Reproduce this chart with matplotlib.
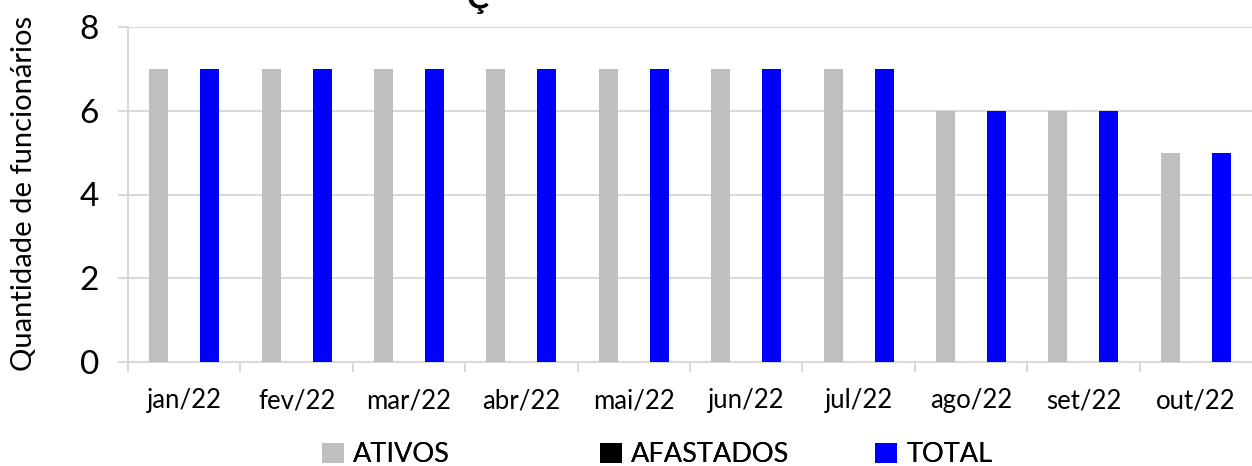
import matplotlib
matplotlib.use("Agg")
import matplotlib.pyplot as plt
import numpy as np
from matplotlib.patches import Patch

categories = ["jan/22", "fev/22", "mar/22", "abr/22", "mai/22", "jun/22", "jul/22", "ago/22", "set/22", "out/22"]
ativos = [7, 7, 7, 7, 7, 7, 7, 6, 6, 5]
afastados = [0, 0, 0, 0, 0, 0, 0, 0, 0, 0]
total = [7, 7, 7, 7, 7, 7, 7, 6, 6, 5]
series_names = ["ATIVOS", "AFASTADOS", "TOTAL"]
colors = ["#BFBFBF", "#000000", "#0000FF"]
grid_color = "#D9D9D9"
font = ["Lato", "DejaVu Sans"]

plt.rcParams['font.family'] = font

fig = plt.figure(figsize=(12.52, 4.66), dpi=100)
ax = fig.add_axes([128/1252, 1 - 362/466, 1 - 128/1252, (362 - 27)/466])

x = np.arange(len(categories))
w = 0.17
off = 0.227
for i, (vals, c) in enumerate(zip([ativos, afastados, total], colors)):
    ax.bar(x + (i - 1) * off, vals, width=w, color=c, zorder=3)

ax.set_xlim(-0.5, len(categories) - 0.5)
ax.set_ylim(0, 8)
ax.set_yticks([0, 2, 4, 6, 8])
ax.set_xticks(x)
ax.set_xticklabels(categories)
ax.set_xticks(np.arange(len(categories)) - 0.5, minor=True)
ax.tick_params(axis='x', which='major', length=0, pad=19, labelsize=18.5, labelcolor='black')
ax.tick_params(axis='x', which='minor', length=7, color=grid_color, width=1.5, direction='out')
ax.tick_params(axis='y', length=7, color=grid_color, width=1.5, labelsize=24, pad=14)

ax.grid(axis='y', color=grid_color, linewidth=1.5, zorder=0)
for s in ['top', 'right']:
    ax.spines[s].set_visible(False)
for s in ['left', 'bottom']:
    ax.spines[s].set_color(grid_color)
    ax.spines[s].set_linewidth(1.5)

fig.text(24/1252, 1 - 193/466, "Quantidade de funcionários", fontsize=21,
         rotation=90, ha='center', va='center')

fig.text(0.382, 1.0, "Ç", fontsize=24, fontweight='bold', ha='center', va='center')

# Legend entries laid out in equal-width columns, as in the original
legend_x = [322, 600, 875]
for name, c, lx in zip(series_names, colors, legend_x):
    leg = fig.legend([Patch(facecolor=c, edgecolor='none')], [name], loc='center left',
                     bbox_to_anchor=(lx / 1252, 1 - 455/466), frameon=False,
                     fontsize=19.5, handlelength=0.8, handleheight=0.8,
                     handletextpad=0.35, borderpad=0, borderaxespad=0)
    fig.add_artist(leg)

fig.savefig("out.png", dpi=100)
